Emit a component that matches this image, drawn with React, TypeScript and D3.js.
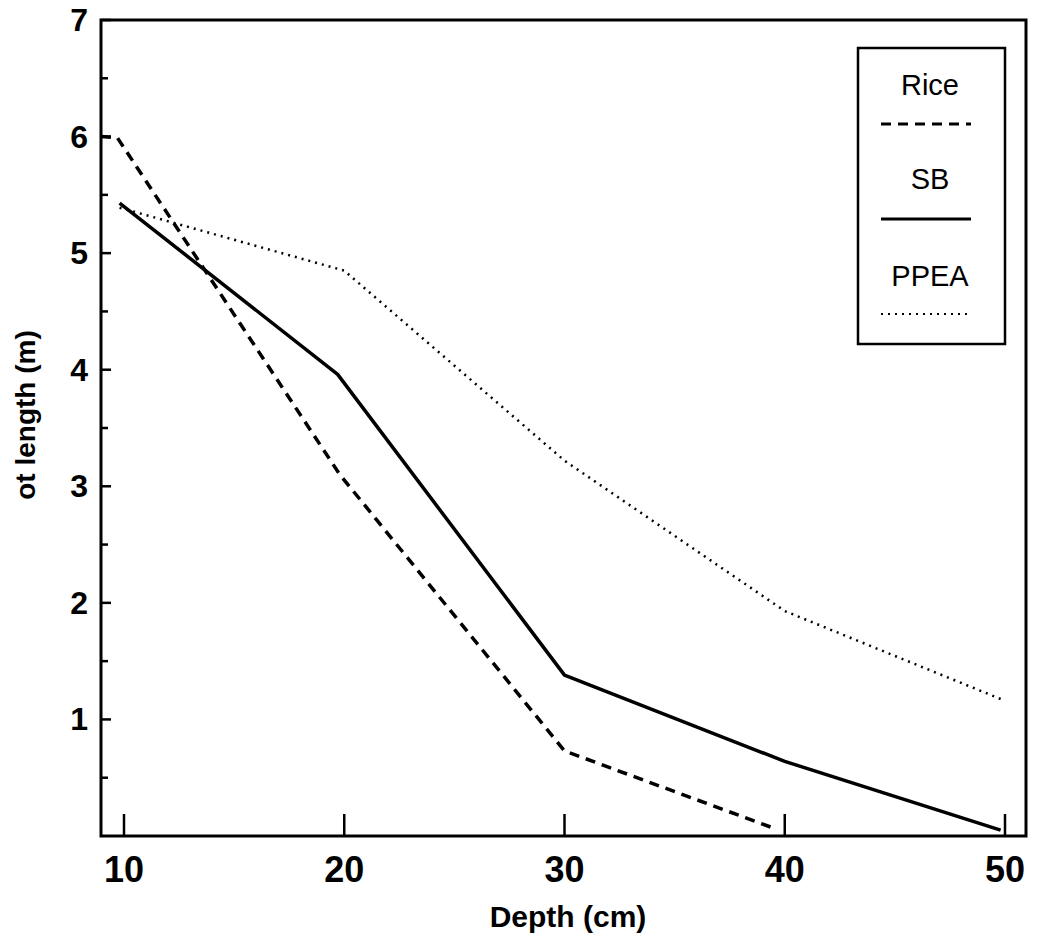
import React from "react";
import * as d3 from "d3";

const xTicks = [10, 20, 30, 40, 50];
const yTicks = [1, 2, 3, 4, 5, 6, 7];
const yMinorTicks = [0.5, 1.5, 2.5, 3.5, 4.5, 5.5, 6.5];

const riceX = [8.95, 9.7, 19.8, 30, 39.6];
const riceY = [6.0, 5.99, 3.1, 0.73, 0.06];
const sbX = [9.8, 19.7, 30, 40, 49.8];
const sbY = [5.43, 3.96, 1.38, 0.64, 0.05];
const ppeaX = [9.8, 20, 30, 40, 50];
const ppeaY = [5.39, 4.85, 3.22, 1.93, 1.16];

const legendNames = ["Rice", "SB", "PPEA"];

const W = 1037;
const H = 938;
const left = 101, right = 1026, top = 20, bottom = 836;

export default function App() {
  const x = d3.scaleLinear().domain([10, 50]).range([124, 1005]);
  const y = d3.scaleLinear().domain([0, 7]).range([bottom, top]);
  const line = d3.line<[number, number]>().x((d) => x(d[0])).y((d) => y(d[1]));
  const zip = (a: number[], b: number[]) => a.map((v, i) => [v, b[i]] as [number, number]);

  const styles = [
    { dash: "10,7", width: 3.5, cap: "butt" },
    { dash: "none", width: 3.5, cap: "butt" },
    { dash: "2,5", width: 2.5, cap: "butt" },
  ];
  const series = [zip(riceX, riceY), zip(sbX, sbY), zip(ppeaX, ppeaY)];

  const font = "'Liberation Sans', Arial, Helvetica, sans-serif";
  const legTextY = [95, 189, 286];
  const legLineY = [124, 219, 314];

  return (
    <svg width={W} height={H} style={{ position: "absolute", left: 0, top: 0, background: "#fff" }}>
      <rect x={0} y={0} width={W} height={H} fill="#fff" />
      {/* frame */}
      <rect x={left} y={top} width={right - left} height={bottom - top} fill="none" stroke="#000" strokeWidth={3} />
      {/* y ticks */}
      {yTicks.map((t) => (
        <g key={"y" + t}>
          <line x1={left} x2={left + 10} y1={y(t)} y2={y(t)} stroke="#000" strokeWidth={2.5} />
          <text x={88} y={y(t)} dominantBaseline="central" textAnchor="end" fontFamily={font} fontWeight="bold" fontSize={32}>{t}</text>
        </g>
      ))}
      {yMinorTicks.map((t) => (
        <line key={"ym" + t} x1={left} x2={left + 7} y1={y(t)} y2={y(t)} stroke="#000" strokeWidth={2.5} />
      ))}
      {/* x ticks */}
      {xTicks.map((t) => (
        <g key={"x" + t}>
          <line x1={x(t)} x2={x(t)} y1={bottom} y2={bottom - 22} stroke="#000" strokeWidth={2.5} />
          <text x={x(t)} y={882} textAnchor="middle" fontFamily={font} fontWeight="bold" fontSize={36}>{t}</text>
        </g>
      ))}
      {/* titles */}
      <text x={568} y={927} textAnchor="middle" fontFamily={font} fontWeight="bold" fontSize={30}>Depth (cm)</text>
      <text transform="translate(35,415) rotate(-90)" textAnchor="middle" fontFamily={font} fontWeight="bold" fontSize={28}>ot length (m)</text>
      {/* series */}
      {series.map((s, i) => (
        <path key={"s" + i} d={line(s) || ""} fill="none" stroke="#000" strokeWidth={styles[i].width}
          strokeDasharray={styles[i].dash} strokeLinejoin="round" />
      ))}
      {/* legend */}
      <rect x={858} y={48} width={147} height={296} fill="#fff" stroke="#000" strokeWidth={2.5} />
      {legendNames.map((n, i) => (
        <g key={"l" + n}>
          <text x={930} y={legTextY[i]} textAnchor="middle" fontFamily={font} fontSize={29}>{n}</text>
          <line x1={881} x2={971} y1={legLineY[i]} y2={legLineY[i]} stroke="#000"
            strokeWidth={styles[i].width - 0.5} strokeDasharray={styles[i].dash} />
        </g>
      ))}
    </svg>
  );
}
